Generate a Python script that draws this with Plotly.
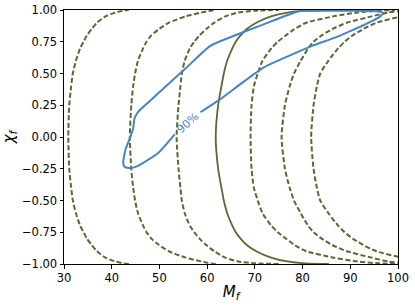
import plotly.graph_objects as go

# upper-half chi grid (curves are mirror-symmetric in chi)
chi_half = [0.0, 0.25, 0.4, 0.5, 0.6, 0.7, 0.75, 0.8, 0.85, 0.9, 0.95, 0.98, 0.995, 1.0]
chi = [-c for c in chi_half[::-1]] + chi_half[1:]

# M_f along each curve for chi_half
curve1_half = [30.9, 31.1, 31.5, 31.85, 32.5, 33.4, 34.1, 34.8, 35.8, 36.9, 38.7, 40.8, 42.5, 43.6]
curve2_half = [43.8, 44.1, 44.5, 44.9, 45.5, 46.6, 47.3, 48.3, 49.9, 52.0, 55.5, 58.8, 60.8, 61.8]
curve3_half = [53.6, 54.0, 54.4, 54.7, 55.3, 56.4, 57.3, 58.4, 59.8, 61.5, 63.8, 66.5, 70.0, 75.0]
solid_half = [61.8, 62.3, 63.0, 63.5, 64.2, 65.3, 66.0, 67.0, 68.3, 70.3, 73.4, 76.8, 80.5, 85.5]
curve5_half = [69.1, 69.3, 69.8, 70.6, 71.6, 73.5, 74.8, 76.5, 78.3, 80.8, 86.5, 91.5, 96.0, 99.4]
curve6_half = [75.6, 76.3, 77.3, 78.2, 79.6, 81.2, 82.3, 84.0, 86.2, 89.3, 94.5, 97.9, 101.5, 104.0]
curve7_half = [81.8, 82.3, 83.0, 83.7, 85.4, 87.5, 88.8, 90.5, 92.7, 95.5, 100.8, 105.0, 109.0, 111.0]

# 90% credible contour (M_f, chi_f); None = gap for the label
blue_M = [97.0, 95.9, 92.4, 90.0, 86.8, 81.9, 76.3, 71.8, 66.9, 62.7, 58.6, None,
          53.2, 49.8, 46.6, 45.0, 43.8, 42.7, 42.4, 42.6, 42.9, 43.9, 44.5,
          44.8, 45.6, 48.0, 52.0, 56.0, 60.6, 65.5, 71.8, 76.3, 79.5, 84.0,
          90.0, 94.5, 96.6, 97.0]
blue_chi = [0.975, 0.94, 0.874, 0.834, 0.782, 0.716, 0.625, 0.546, 0.414, 0.296, 0.195, None,
            0.02, -0.124, -0.203, -0.235, -0.245, -0.235, -0.2, -0.15, -0.098, 0.0, 0.07,
            0.15, 0.2, 0.284, 0.421, 0.558, 0.716, 0.795, 0.887, 0.953, 0.992, 0.994,
            0.994, 0.992, 0.985, 0.975]

label_text = "90%"
label_pos = (55.9, 0.105)

x_ticks = [30, 40, 50, 60, 70, 80, 90, 100]
y_ticks = [-1.0, -0.75, -0.5, -0.25, 0.0, 0.25, 0.5, 0.75, 1.0]
y_ticktext = [("−" if v < 0 else "") + f"{abs(v):.2f}" for v in y_ticks]

GREEN = "#556b2f"
BLUE = "#4685bf"


def full(half):
    return half[::-1] + half[1:]


fig = go.Figure()
for h in [curve1_half, curve2_half, curve3_half, curve5_half, curve6_half, curve7_half]:
    fig.add_trace(go.Scatter(x=full(h), y=chi, mode="lines",
                             line=dict(color=GREEN, width=2, dash="5px,2.5px", shape="spline", smoothing=0.6),
                             showlegend=False, hoverinfo="skip"))
fig.add_trace(go.Scatter(x=full(solid_half), y=chi, mode="lines",
                         line=dict(color=GREEN, width=1.8, shape="spline", smoothing=0.6),
                         showlegend=False, hoverinfo="skip"))
fig.add_trace(go.Scatter(x=blue_M, y=blue_chi, mode="lines",
                         line=dict(color=BLUE, width=2, shape="spline", smoothing=0.6),
                         connectgaps=False, showlegend=False, hoverinfo="skip"))

fig.add_annotation(x=label_pos[0], y=label_pos[1], xref="x", yref="y", text=label_text,
                   showarrow=False, textangle=-41,
                   font=dict(family="DejaVu Sans", size=11, color=BLUE))

axis_common = dict(showline=True, linecolor="black", linewidth=1, mirror=True,
                   ticks="outside", ticklen=3.5, tickwidth=1, tickcolor="black",
                   showgrid=False, zeroline=False,
                   tickfont=dict(family="DejaVu Sans", size=11.5, color="black"))

fig.update_xaxes(range=[30, 100], tickvals=x_ticks, ticktext=[str(v) for v in x_ticks],
                 title=dict(text="<i>M<sub>f</sub></i>", font=dict(family="DejaVu Sans", size=15, color="black"),
                            standoff=2),
                 **axis_common)
fig.update_yaxes(range=[-1, 1], tickvals=y_ticks, ticktext=y_ticktext,
                 title=dict(text="<i>χ<sub>f</sub></i>", font=dict(family="DejaVu Sans", size=15, color="black"),
                            standoff=6),
                 **axis_common)

fig.update_layout(width=415, height=306, margin=dict(l=64, r=17, t=10, b=42, autoexpand=False),
                  plot_bgcolor="white", paper_bgcolor="white")

fig.write_html("out.html", config={"displayModeBar": False},
               post_script="document.body.style.margin='0';document.body.style.overflow='hidden';")
